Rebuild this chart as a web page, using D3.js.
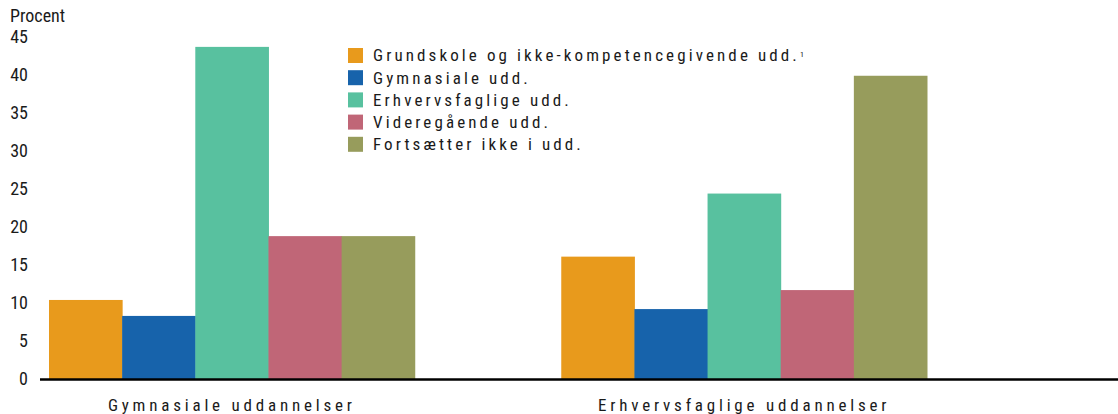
<!DOCTYPE html>
<html>
<head>
<meta charset="utf-8">
<script src="https://cdn.jsdelivr.net/npm/d3@7"></script>
<style>
  body { margin: 0; background: #fff; }
  svg text { font-family: "Liberation Sans Narrow", "Arial Narrow", "Roboto Condensed", "Liberation Sans", sans-serif; fill: #1a1a1a; }
</style>
</head>
<body>
<div id="vis"><svg></svg></div>
<script>
// data
var groups = ["Gymnasiale uddannelser", "Erhvervsfaglige uddannelser"];
var seriesNames = ["Grundskole og ikke-kompetencegivende udd.", "Gymnasiale udd.", "Erhvervsfaglige udd.", "Videregående udd.", "Fortsætter ikke i udd."];
var gymnasialeValues = [10.4, 8.3, 43.7, 18.8, 18.8];
var erhvervsValues = [16.1, 9.2, 24.4, 11.7, 39.9];
var yTicks = [0, 5, 10, 15, 20, 25, 30, 35, 40, 45];
var colors = ["#E89A1C", "#1763AB", "#58C19F", "#C06677", "#979C5C"];

var width = 1118, height = 414;

var svg = d3.select("#vis").select("svg")
    .attr("width", width)
    .attr("height", height);

var rows = groups.map(function(g, i) {
  var vals = i == 0 ? gymnasialeValues : erhvervsValues;
  return { group: g, values: seriesNames.map(function(s, j) { return { name: s, value: vals[j] }; }) };
});

var x0 = d3.scaleBand()
  .domain(groups)
  .range([49, 927])
  .paddingInner(0.286)
  .paddingOuter(0);

var x1 = d3.scaleBand()
  .domain(seriesNames)
  .range([0, x0.bandwidth()]);

var y = d3.scaleLinear()
  .domain([0, 45])
  .range([379, 37]);

var color = d3.scaleOrdinal().domain(seriesNames).range(colors);

// y tick labels (no axis line)
svg.append("g")
  .selectAll("text")
  .data(yTicks)
  .enter()
  .append("text")
    .attr("x", 28)
    .attr("y", function(d) { return y(d); })
    .attr("dy", "0.35em")
    .attr("text-anchor", "end")
    .style("font-size", "18px")
    .text(function(d) { return d; });

svg.append("text")
  .attr("x", 10)
  .attr("y", 22)
  .style("font-size", "18px")
  .text("Procent");

// bars
svg.append("g")
  .selectAll("g")
  .data(rows)
  .enter()
  .append("g")
    .attr("transform", function(d) { return "translate(" + x0(d.group) + ",0)"; })
  .selectAll("rect")
  .data(function(d) { return d.values; })
  .enter()
  .append("rect")
    .attr("x", function(d) { return x1(d.name); })
    .attr("y", function(d) { return y(d.value); })
    .attr("width", x1.bandwidth() + 0.5)
    .attr("height", function(d) { return y(0) - y(d.value); })
    .attr("fill", function(d) { return color(d.name); });

// baseline
svg.append("line")
  .attr("x1", 40).attr("x2", width)
  .attr("y1", y(0) + 0.5).attr("y2", y(0) + 0.5)
  .attr("stroke", "#000")
  .attr("stroke-width", 2.5);

// group labels
svg.append("g")
  .selectAll("text")
  .data(groups)
  .enter()
  .append("text")
    .attr("x", function(d) { return x0(d) + x0.bandwidth() / 2; })
    .attr("y", 411)
    .attr("text-anchor", "middle")
    .style("font-size", "17px")
    .style("letter-spacing", "3.8px")
    .text(function(d) { return d; });

// legend
var legend = svg.append("g")
  .selectAll("g")
  .data(seriesNames)
  .enter()
  .append("g")
    .attr("transform", function(d, i) { return "translate(348," + (48 + i * 22.2) + ")"; });

legend.append("rect")
  .attr("width", 15)
  .attr("height", 15)
  .attr("fill", function(d) { return color(d); });

legend.append("text")
  .attr("x", 25)
  .attr("y", 7.5)
  .attr("dy", "0.35em")
  .style("font-size", "17px")
  .style("letter-spacing", "3.1px")
  .text(function(d) { return d; })
  .filter(function(d, i) { return i == 0; })
  .append("tspan")
    .attr("dy", "-0.6em")
    .style("font-size", "8px")
    .style("letter-spacing", "0px")
    .text("1");
</script>
</body>
</html>
